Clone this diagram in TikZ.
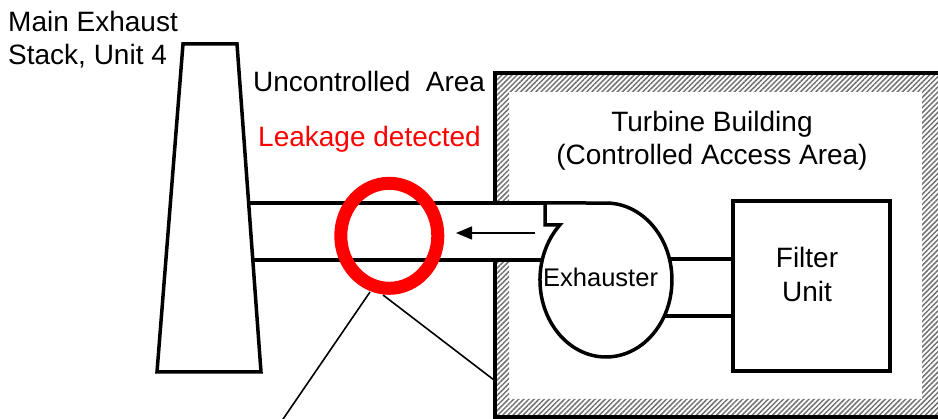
\documentclass[tikz,border=0pt]{standalone}
\usepackage{fontspec}
\setmainfont{Liberation Sans}
\usetikzlibrary{patterns.meta,arrows.meta,shapes.geometric}
\begin{document}
\begin{tikzpicture}[x=1pt,y=1pt,
  heavy/.style={line width=3.5pt, line join=miter},
  thinline/.style={line width=1.6pt},
  lbl/.style={inner sep=0pt, font=\fontsize{28}{33}\selectfont},
  hatch/.style={pattern={Lines[angle=45,distance=3.6pt,line width=1.5pt]}, pattern color=black!55},
]
\useasboundingbox (0,0) rectangle (938,419);
\clip (0,0) rectangle (938,419);
% building wall with hatch band
\fill[hatch, even odd rule] (495,2) rectangle (960,346) (509,20) rectangle (922,327);
\draw[line width=4pt] (960,346) -- (495,346) -- (495,2) -- (960,2);
% duct opening through the wall
\fill[white] (251,159) rectangle (548,216);
% stack
\draw[heavy, fill=white] (183,375) -- (237,375) -- (261,47) -- (157,47) -- cycle;
% duct
\coordinate (dtl) at (248.6,216);
\coordinate (dbl) at (252.8,159);
\draw[heavy] (dtl) -- (545,216);
\draw[heavy] (dbl) -- (542.3,159);
% exhauster
\draw[heavy, fill=white] (545,216) -- (545,194) -- (559.8,194)
   arc[start angle=134.4, end angle=450, x radius=66, y radius=77] -- cycle;
% filter unit
\node[draw, heavy, minimum width=157pt, minimum height=170pt, inner sep=0pt, anchor=south west] (filter) at (731,46) {};
\draw[heavy] (669.5,160) -- (filter.west |- 0,160);
\draw[heavy] (664.3,103) -- (filter.west |- 0,103);
% flow arrow
\coordinate (as) at (535,186);
\coordinate (ae) at (456,186);
\draw[thinline, -{Triangle[length=16pt,width=13pt]}] (as) -- (ae);
% callout lines
\coordinate (c1a) at (370,127);
\coordinate (c1b) at (279,-6);
\coordinate (c2a) at (383,124);
\coordinate (c2b) at (494,39);
\draw[thinline] (c1a) -- (c1b);
\draw[thinline] (c2a) -- (c2b);
% leakage circle
\node[draw=red, line width=13pt, ellipse, minimum width=97pt, minimum height=105pt, inner sep=0pt] (leak) at (389.3,183.2) {};
% labels
\node[lbl, anchor=base west] (stack1) at (8,387) {Main Exhaust};
\node[lbl, anchor=base west] (stack2) at (8,354) {Stack, Unit 4};
\node[lbl, anchor=base west] (unc) at (253,327) {Uncontrolled\ \ Area};
\node[lbl, anchor=base west, text=red] (leaklbl) at (258,272) {Leakage detected};
\node[lbl, anchor=base] (tb1) at (712,287) {Turbine Building};
\node[lbl, anchor=base] (tb2) at (712,254) {(Controlled Access Area)};
\node[inner sep=0pt, font=\fontsize{25.5}{30}\selectfont, anchor=base west] (exh) at (543,132) {Exhauster};
\node[lbl, anchor=base] (fu1) at (807,151) {Filter};
\node[lbl, anchor=base] (fu2) at (807,117) {Unit};
\end{tikzpicture}
\end{document}
